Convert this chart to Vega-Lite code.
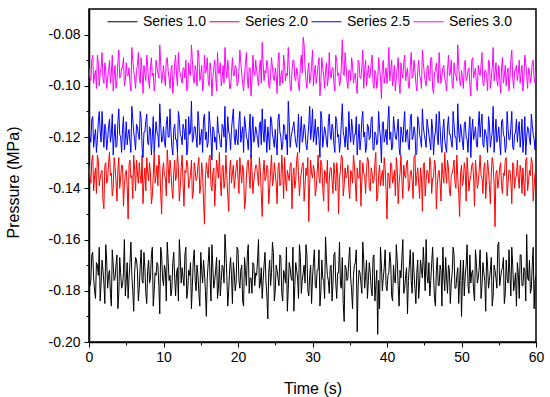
{
"$schema":"https://vega.github.io/schema/vega-lite/v6.json",
"width":447,"height":333,
"autosize":{"type":"none"},
"padding":{"left":89,"top":9,"right":14,"bottom":55},
"background":"white",
"config":{"view":{"stroke":"black","strokeWidth":1.5},"font":"Liberation Sans"},
"data":{"values":[
{"t":0,"a":-0.171,"b":-0.131,"c":-0.116,"d":-0.093},
{"t":0.25,"a":-0.176,"b":-0.138,"c":-0.122,"d":-0.098},
{"t":0.5,"a":-0.165,"b":-0.127,"c":-0.112,"d":-0.088},
{"t":0.75,"a":-0.180,"b":-0.135,"c":-0.120,"d":-0.096},
{"t":1,"a":-0.169,"b":-0.142,"c":-0.126,"d":-0.101},
{"t":1.25,"a":-0.174,"b":-0.129,"c":-0.114,"d":-0.091},
{"t":1.5,"a":-0.184,"b":-0.136,"c":-0.118,"d":-0.095},
{"t":1.75,"a":-0.168,"b":-0.133,"c":-0.110,"d":-0.087},
{"t":2,"a":-0.177,"b":-0.148,"c":-0.124,"d":-0.099},
{"t":2.25,"a":-0.162,"b":-0.130,"c":-0.117,"d":-0.094},
{"t":2.5,"a":-0.179,"b":-0.137,"c":-0.121,"d":-0.097},
{"t":2.75,"a":-0.172,"b":-0.126,"c":-0.113,"d":-0.090},
{"t":3,"a":-0.186,"b":-0.134,"c":-0.119,"d":-0.095},
{"t":3.25,"a":-0.170,"b":-0.140,"c":-0.127,"d":-0.102},
{"t":3.5,"a":-0.175,"b":-0.132,"c":-0.115,"d":-0.092},
{"t":3.75,"a":-0.166,"b":-0.145,"c":-0.123,"d":-0.098},
{"t":4,"a":-0.181,"b":-0.128,"c":-0.109,"d":-0.086},
{"t":4.25,"a":-0.173,"b":-0.136,"c":-0.120,"d":-0.096},
{"t":4.5,"a":-0.178,"b":-0.131,"c":-0.117,"d":-0.093},
{"t":4.75,"a":-0.160,"b":-0.139,"c":-0.125,"d":-0.100},
{"t":5,"a":-0.176,"b":-0.133,"c":-0.114,"d":-0.091},
{"t":5.25,"a":-0.183,"b":-0.152,"c":-0.119,"d":-0.096},
{"t":5.5,"a":-0.169,"b":-0.129,"c":-0.122,"d":-0.099},
{"t":5.75,"a":-0.174,"b":-0.135,"c":-0.108,"d":-0.085},
{"t":6,"a":-0.188,"b":-0.127,"c":-0.118,"d":-0.094},
{"t":6.25,"a":-0.167,"b":-0.141,"c":-0.125,"d":-0.101},
{"t":6.5,"a":-0.172,"b":-0.134,"c":-0.116,"d":-0.092},
{"t":6.75,"a":-0.179,"b":-0.130,"c":-0.121,"d":-0.097},
{"t":7,"a":-0.164,"b":-0.138,"c":-0.113,"d":-0.089},
{"t":7.25,"a":-0.177,"b":-0.146,"c":-0.128,"d":-0.103},
{"t":7.5,"a":-0.171,"b":-0.132,"c":-0.118,"d":-0.095},
{"t":7.75,"a":-0.185,"b":-0.128,"c":-0.111,"d":-0.088},
{"t":8,"a":-0.168,"b":-0.137,"c":-0.123,"d":-0.098},
{"t":8.25,"a":-0.175,"b":-0.134,"c":-0.117,"d":-0.093},
{"t":8.5,"a":-0.163,"b":-0.143,"c":-0.120,"d":-0.096},
{"t":8.75,"a":-0.180,"b":-0.126,"c":-0.126,"d":-0.102},
{"t":9,"a":-0.174,"b":-0.135,"c":-0.114,"d":-0.090},
{"t":9.25,"a":-0.170,"b":-0.139,"c":-0.119,"d":-0.095},
{"t":9.5,"a":-0.189,"b":-0.131,"c":-0.107,"d":-0.084},
{"t":9.75,"a":-0.166,"b":-0.150,"c":-0.122,"d":-0.099},
{"t":10,"a":-0.178,"b":-0.130,"c":-0.116,"d":-0.092},
{"t":10.25,"a":-0.172,"b":-0.136,"c":-0.124,"d":-0.100},
{"t":10.5,"a":-0.161,"b":-0.125,"c":-0.112,"d":-0.089},
{"t":10.75,"a":-0.176,"b":-0.138,"c":-0.120,"d":-0.097},
{"t":11,"a":-0.182,"b":-0.133,"c":-0.118,"d":-0.094},
{"t":11.25,"a":-0.169,"b":-0.144,"c":-0.127,"d":-0.103},
{"t":11.5,"a":-0.175,"b":-0.129,"c":-0.115,"d":-0.091},
{"t":11.75,"a":-0.173,"b":-0.135,"c":-0.121,"d":-0.096},
{"t":12,"a":-0.184,"b":-0.132,"c":-0.110,"d":-0.087},
{"t":12.25,"a":-0.167,"b":-0.140,"c":-0.119,"d":-0.095},
{"t":12.5,"a":-0.171,"b":-0.127,"c":-0.123,"d":-0.099},
{"t":12.75,"a":-0.178,"b":-0.147,"c":-0.117,"d":-0.093},
{"t":13,"a":-0.163,"b":-0.134,"c":-0.113,"d":-0.090},
{"t":13.25,"a":-0.180,"b":-0.131,"c":-0.125,"d":-0.101},
{"t":13.5,"a":-0.174,"b":-0.137,"c":-0.119,"d":-0.095},
{"t":13.75,"a":-0.187,"b":-0.129,"c":-0.106,"d":-0.084},
{"t":14,"a":-0.168,"b":-0.142,"c":-0.121,"d":-0.097},
{"t":14.25,"a":-0.176,"b":-0.133,"c":-0.116,"d":-0.092},
{"t":14.5,"a":-0.170,"b":-0.136,"c":-0.124,"d":-0.100},
{"t":14.75,"a":-0.181,"b":-0.128,"c":-0.114,"d":-0.089},
{"t":15,"a":-0.165,"b":-0.139,"c":-0.120,"d":-0.096},
{"t":15.25,"a":-0.177,"b":-0.134,"c":-0.126,"d":-0.102},
{"t":15.5,"a":-0.173,"b":-0.154,"c":-0.111,"d":-0.088},
{"t":15.75,"a":-0.190,"b":-0.130,"c":-0.118,"d":-0.094},
{"t":16,"a":-0.169,"b":-0.136,"c":-0.122,"d":-0.098},
{"t":16.25,"a":-0.175,"b":-0.127,"c":-0.115,"d":-0.091},
{"t":16.5,"a":-0.162,"b":-0.141,"c":-0.129,"d":-0.104},
{"t":16.75,"a":-0.179,"b":-0.132,"c":-0.117,"d":-0.093},
{"t":17,"a":-0.172,"b":-0.138,"c":-0.120,"d":-0.096},
{"t":17.25,"a":-0.183,"b":-0.133,"c":-0.112,"d":-0.087},
{"t":17.5,"a":-0.168,"b":-0.126,"c":-0.119,"d":-0.095},
{"t":17.75,"a":-0.176,"b":-0.143,"c":-0.124,"d":-0.100},
{"t":18,"a":-0.171,"b":-0.131,"c":-0.116,"d":-0.092},
{"t":18.25,"a":-0.158,"b":-0.137,"c":-0.108,"d":-0.085},
{"t":18.5,"a":-0.174,"b":-0.135,"c":-0.121,"d":-0.097},
{"t":18.75,"a":-0.180,"b":-0.149,"c":-0.118,"d":-0.094},
{"t":19,"a":-0.167,"b":-0.129,"c":-0.125,"d":-0.101},
{"t":19.25,"a":-0.185,"b":-0.134,"c":-0.113,"d":-0.089},
{"t":19.5,"a":-0.173,"b":-0.140,"c":-0.120,"d":-0.096},
{"t":19.75,"a":-0.177,"b":-0.132,"c":-0.117,"d":-0.093},
{"t":20,"a":-0.164,"b":-0.136,"c":-0.123,"d":-0.099},
{"t":20.25,"a":-0.179,"b":-0.128,"c":-0.110,"d":-0.086},
{"t":20.5,"a":-0.170,"b":-0.138,"c":-0.119,"d":-0.095},
{"t":20.75,"a":-0.186,"b":-0.133,"c":-0.126,"d":-0.102},
{"t":21,"a":-0.172,"b":-0.145,"c":-0.115,"d":-0.091},
{"t":21.25,"a":-0.166,"b":-0.130,"c":-0.121,"d":-0.097},
{"t":21.5,"a":-0.181,"b":-0.135,"c":-0.117,"d":-0.093},
{"t":21.75,"a":-0.175,"b":-0.127,"c":-0.128,"d":-0.104},
{"t":22,"a":-0.169,"b":-0.142,"c":-0.112,"d":-0.088},
{"t":22.25,"a":-0.178,"b":-0.134,"c":-0.120,"d":-0.096},
{"t":22.5,"a":-0.174,"b":-0.131,"c":-0.118,"d":-0.094},
{"t":22.75,"a":-0.160,"b":-0.139,"c":-0.124,"d":-0.100},
{"t":23,"a":-0.177,"b":-0.133,"c":-0.114,"d":-0.090},
{"t":23.25,"a":-0.183,"b":-0.151,"c":-0.109,"d":-0.083},
{"t":23.5,"a":-0.170,"b":-0.129,"c":-0.122,"d":-0.098},
{"t":23.75,"a":-0.176,"b":-0.136,"c":-0.119,"d":-0.095},
{"t":24,"a":-0.191,"b":-0.132,"c":-0.116,"d":-0.092},
{"t":24.25,"a":-0.168,"b":-0.140,"c":-0.125,"d":-0.101},
{"t":24.5,"a":-0.173,"b":-0.127,"c":-0.113,"d":-0.089},
{"t":24.75,"a":-0.165,"b":-0.137,"c":-0.121,"d":-0.097},
{"t":25,"a":-0.180,"b":-0.134,"c":-0.117,"d":-0.093},
{"t":25.25,"a":-0.172,"b":-0.146,"c":-0.127,"d":-0.103},
{"t":25.5,"a":-0.178,"b":-0.130,"c":-0.111,"d":-0.087},
{"t":25.75,"a":-0.167,"b":-0.138,"c":-0.120,"d":-0.096},
{"t":26,"a":-0.184,"b":-0.133,"c":-0.123,"d":-0.099},
{"t":26.25,"a":-0.174,"b":-0.128,"c":-0.116,"d":-0.092},
{"t":26.5,"a":-0.163,"b":-0.141,"c":-0.119,"d":-0.095},
{"t":26.75,"a":-0.179,"b":-0.135,"c":-0.106,"d":-0.085},
{"t":27,"a":-0.171,"b":-0.131,"c":-0.124,"d":-0.100},
{"t":27.25,"a":-0.176,"b":-0.148,"c":-0.118,"d":-0.094},
{"t":27.5,"a":-0.188,"b":-0.132,"c":-0.114,"d":-0.090},
{"t":27.75,"a":-0.169,"b":-0.137,"c":-0.122,"d":-0.098},
{"t":28,"a":-0.175,"b":-0.126,"c":-0.119,"d":-0.095},
{"t":28.25,"a":-0.162,"b":-0.143,"c":-0.126,"d":-0.102},
{"t":28.5,"a":-0.181,"b":-0.134,"c":-0.112,"d":-0.088},
{"t":28.75,"a":-0.173,"b":-0.130,"c":-0.120,"d":-0.081},
{"t":29,"a":-0.177,"b":-0.139,"c":-0.117,"d":-0.093},
{"t":29.25,"a":-0.166,"b":-0.135,"c":-0.125,"d":-0.101},
{"t":29.5,"a":-0.182,"b":-0.153,"c":-0.115,"d":-0.091},
{"t":29.75,"a":-0.170,"b":-0.129,"c":-0.121,"d":-0.097},
{"t":30,"a":-0.175,"b":-0.136,"c":-0.109,"d":-0.086},
{"t":30.25,"a":-0.164,"b":-0.133,"c":-0.119,"d":-0.095},
{"t":30.5,"a":-0.179,"b":-0.140,"c":-0.123,"d":-0.099},
{"t":30.75,"a":-0.172,"b":-0.127,"c":-0.116,"d":-0.092},
{"t":31,"a":-0.186,"b":-0.138,"c":-0.128,"d":-0.104},
{"t":31.25,"a":-0.168,"b":-0.131,"c":-0.113,"d":-0.089},
{"t":31.5,"a":-0.176,"b":-0.145,"c":-0.120,"d":-0.096},
{"t":31.75,"a":-0.159,"b":-0.134,"c":-0.118,"d":-0.094},
{"t":32,"a":-0.174,"b":-0.129,"c":-0.124,"d":-0.100},
{"t":32.25,"a":-0.181,"b":-0.137,"c":-0.111,"d":-0.087},
{"t":32.5,"a":-0.170,"b":-0.132,"c":-0.121,"d":-0.097},
{"t":32.75,"a":-0.177,"b":-0.142,"c":-0.117,"d":-0.093},
{"t":33,"a":-0.165,"b":-0.135,"c":-0.126,"d":-0.102},
{"t":33.25,"a":-0.183,"b":-0.130,"c":-0.114,"d":-0.090},
{"t":33.5,"a":-0.173,"b":-0.150,"c":-0.119,"d":-0.095},
{"t":33.75,"a":-0.178,"b":-0.133,"c":-0.122,"d":-0.098},
{"t":34,"a":-0.167,"b":-0.128,"c":-0.107,"d":-0.082},
{"t":34.25,"a":-0.192,"b":-0.139,"c":-0.120,"d":-0.096},
{"t":34.5,"a":-0.171,"b":-0.136,"c":-0.116,"d":-0.092},
{"t":34.75,"a":-0.175,"b":-0.131,"c":-0.125,"d":-0.101},
{"t":35,"a":-0.163,"b":-0.144,"c":-0.118,"d":-0.094},
{"t":35.25,"a":-0.180,"b":-0.134,"c":-0.113,"d":-0.089},
{"t":35.5,"a":-0.174,"b":-0.127,"c":-0.123,"d":-0.099},
{"t":35.75,"a":-0.169,"b":-0.138,"c":-0.119,"d":-0.095},
{"t":36,"a":-0.196,"b":-0.132,"c":-0.127,"d":-0.103},
{"t":36.25,"a":-0.172,"b":-0.136,"c":-0.115,"d":-0.091},
{"t":36.5,"a":-0.177,"b":-0.147,"c":-0.121,"d":-0.097},
{"t":36.75,"a":-0.161,"b":-0.130,"c":-0.110,"d":-0.086},
{"t":37,"a":-0.179,"b":-0.135,"c":-0.118,"d":-0.094},
{"t":37.25,"a":-0.168,"b":-0.133,"c":-0.124,"d":-0.100},
{"t":37.5,"a":-0.176,"b":-0.129,"c":-0.116,"d":-0.092},
{"t":37.75,"a":-0.173,"b":-0.141,"c":-0.120,"d":-0.096},
{"t":38,"a":-0.182,"b":-0.134,"c":-0.112,"d":-0.088},
{"t":38.25,"a":-0.166,"b":-0.137,"c":-0.125,"d":-0.101},
{"t":38.5,"a":-0.178,"b":-0.126,"c":-0.119,"d":-0.095},
{"t":38.75,"a":-0.197,"b":-0.143,"c":-0.122,"d":-0.098},
{"t":39,"a":-0.187,"b":-0.131,"c":-0.117,"d":-0.093},
{"t":39.25,"a":-0.170,"b":-0.136,"c":-0.130,"d":-0.105},
{"t":39.5,"a":-0.175,"b":-0.139,"c":-0.114,"d":-0.090},
{"t":39.75,"a":-0.164,"b":-0.132,"c":-0.120,"d":-0.096},
{"t":40,"a":-0.180,"b":-0.152,"c":-0.123,"d":-0.099},
{"t":40.25,"a":-0.173,"b":-0.135,"c":-0.108,"d":-0.085},
{"t":40.5,"a":-0.169,"b":-0.130,"c":-0.118,"d":-0.094},
{"t":40.75,"a":-0.184,"b":-0.138,"c":-0.124,"d":-0.100},
{"t":41,"a":-0.176,"b":-0.133,"c":-0.116,"d":-0.092},
{"t":41.25,"a":-0.162,"b":-0.128,"c":-0.121,"d":-0.097},
{"t":41.5,"a":-0.178,"b":-0.146,"c":-0.113,"d":-0.089},
{"t":41.75,"a":-0.172,"b":-0.134,"c":-0.127,"d":-0.103},
{"t":42,"a":-0.167,"b":-0.137,"c":-0.119,"d":-0.095},
{"t":42.25,"a":-0.181,"b":-0.131,"c":-0.115,"d":-0.091},
{"t":42.5,"a":-0.174,"b":-0.136,"c":-0.122,"d":-0.098},
{"t":42.75,"a":-0.189,"b":-0.129,"c":-0.117,"d":-0.093},
{"t":43,"a":-0.170,"b":-0.140,"c":-0.125,"d":-0.101},
{"t":43.25,"a":-0.176,"b":-0.133,"c":-0.111,"d":-0.087},
{"t":43.5,"a":-0.165,"b":-0.144,"c":-0.120,"d":-0.096},
{"t":43.75,"a":-0.179,"b":-0.127,"c":-0.118,"d":-0.094},
{"t":44,"a":-0.173,"b":-0.135,"c":-0.126,"d":-0.102},
{"t":44.25,"a":-0.183,"b":-0.138,"c":-0.114,"d":-0.090},
{"t":44.5,"a":-0.168,"b":-0.132,"c":-0.121,"d":-0.097},
{"t":44.75,"a":-0.175,"b":-0.149,"c":-0.109,"d":-0.086},
{"t":45,"a":-0.171,"b":-0.130,"c":-0.119,"d":-0.095},
{"t":45.25,"a":-0.160,"b":-0.137,"c":-0.124,"d":-0.100},
{"t":45.5,"a":-0.177,"b":-0.134,"c":-0.116,"d":-0.092},
{"t":45.75,"a":-0.182,"b":-0.128,"c":-0.122,"d":-0.098},
{"t":46,"a":-0.169,"b":-0.142,"c":-0.113,"d":-0.089},
{"t":46.25,"a":-0.174,"b":-0.136,"c":-0.127,"d":-0.103},
{"t":46.5,"a":-0.186,"b":-0.131,"c":-0.118,"d":-0.094},
{"t":46.75,"a":-0.167,"b":-0.139,"c":-0.120,"d":-0.096},
{"t":47,"a":-0.178,"b":-0.133,"c":-0.110,"d":-0.087},
{"t":47.25,"a":-0.172,"b":-0.145,"c":-0.123,"d":-0.099},
{"t":47.5,"a":-0.163,"b":-0.135,"c":-0.117,"d":-0.093},
{"t":47.75,"a":-0.180,"b":-0.126,"c":-0.121,"d":-0.097},
{"t":48,"a":-0.175,"b":-0.138,"c":-0.126,"d":-0.102},
{"t":48.25,"a":-0.170,"b":-0.132,"c":-0.112,"d":-0.088},
{"t":48.5,"a":-0.185,"b":-0.143,"c":-0.119,"d":-0.095},
{"t":48.75,"a":-0.173,"b":-0.134,"c":-0.124,"d":-0.100},
{"t":49,"a":-0.166,"b":-0.129,"c":-0.115,"d":-0.091},
{"t":49.25,"a":-0.179,"b":-0.140,"c":-0.120,"d":-0.096},
{"t":49.5,"a":-0.171,"b":-0.136,"c":-0.107,"d":-0.084},
{"t":49.75,"a":-0.176,"b":-0.151,"c":-0.122,"d":-0.098},
{"t":50,"a":-0.190,"b":-0.131,"c":-0.118,"d":-0.094},
{"t":50.25,"a":-0.168,"b":-0.137,"c":-0.125,"d":-0.101},
{"t":50.5,"a":-0.174,"b":-0.133,"c":-0.114,"d":-0.090},
{"t":50.75,"a":-0.162,"b":-0.128,"c":-0.121,"d":-0.097},
{"t":51,"a":-0.181,"b":-0.141,"c":-0.117,"d":-0.093},
{"t":51.25,"a":-0.177,"b":-0.135,"c":-0.128,"d":-0.104},
{"t":51.5,"a":-0.172,"b":-0.130,"c":-0.113,"d":-0.089},
{"t":51.75,"a":-0.184,"b":-0.147,"c":-0.119,"d":-0.095},
{"t":52,"a":-0.169,"b":-0.134,"c":-0.123,"d":-0.099},
{"t":52.25,"a":-0.175,"b":-0.138,"c":-0.116,"d":-0.092},
{"t":52.5,"a":-0.164,"b":-0.127,"c":-0.120,"d":-0.096},
{"t":52.75,"a":-0.178,"b":-0.136,"c":-0.111,"d":-0.087},
{"t":53,"a":-0.173,"b":-0.132,"c":-0.124,"d":-0.100},
{"t":53.25,"a":-0.188,"b":-0.144,"c":-0.118,"d":-0.094},
{"t":53.5,"a":-0.170,"b":-0.129,"c":-0.126,"d":-0.102},
{"t":53.75,"a":-0.176,"b":-0.139,"c":-0.115,"d":-0.091},
{"t":54,"a":-0.167,"b":-0.134,"c":-0.121,"d":-0.097},
{"t":54.25,"a":-0.182,"b":-0.131,"c":-0.108,"d":-0.085},
{"t":54.5,"a":-0.172,"b":-0.155,"c":-0.119,"d":-0.095},
{"t":54.75,"a":-0.179,"b":-0.133,"c":-0.122,"d":-0.098},
{"t":55,"a":-0.161,"b":-0.137,"c":-0.116,"d":-0.092},
{"t":55.25,"a":-0.175,"b":-0.130,"c":-0.127,"d":-0.103},
{"t":55.5,"a":-0.171,"b":-0.142,"c":-0.113,"d":-0.089},
{"t":55.75,"a":-0.185,"b":-0.135,"c":-0.120,"d":-0.096},
{"t":56,"a":-0.168,"b":-0.128,"c":-0.124,"d":-0.100},
{"t":56.25,"a":-0.177,"b":-0.138,"c":-0.117,"d":-0.093},
{"t":56.5,"a":-0.174,"b":-0.133,"c":-0.121,"d":-0.097},
{"t":56.75,"a":-0.163,"b":-0.146,"c":-0.110,"d":-0.086},
{"t":57,"a":-0.180,"b":-0.131,"c":-0.125,"d":-0.101},
{"t":57.25,"a":-0.173,"b":-0.136,"c":-0.118,"d":-0.094},
{"t":57.5,"a":-0.169,"b":-0.129,"c":-0.122,"d":-0.098},
{"t":57.75,"a":-0.183,"b":-0.140,"c":-0.114,"d":-0.090},
{"t":58,"a":-0.166,"b":-0.134,"c":-0.119,"d":-0.095},
{"t":58.25,"a":-0.178,"b":-0.132,"c":-0.126,"d":-0.102},
{"t":58.5,"a":-0.172,"b":-0.143,"c":-0.112,"d":-0.088},
{"t":58.75,"a":-0.158,"b":-0.128,"c":-0.120,"d":-0.096},
{"t":59,"a":-0.176,"b":-0.137,"c":-0.117,"d":-0.093},
{"t":59.25,"a":-0.181,"b":-0.135,"c":-0.123,"d":-0.099},
{"t":59.5,"a":-0.170,"b":-0.130,"c":-0.115,"d":-0.091},
{"t":59.75,"a":-0.187,"b":-0.139,"c":-0.121,"d":-0.097},
{"t":60,"a":-0.174,"b":-0.133,"c":-0.118,"d":-0.094},
{"t":0.125,"a":-0.178,"b":-0.136,"c":-0.120,"d":-0.097},
{"t":0.375,"a":-0.166,"b":-0.129,"c":-0.113,"d":-0.090},
{"t":0.625,"a":-0.175,"b":-0.141,"c":-0.124,"d":-0.099},
{"t":0.875,"a":-0.183,"b":-0.132,"c":-0.117,"d":-0.094},
{"t":1.125,"a":-0.170,"b":-0.127,"c":-0.121,"d":-0.088},
{"t":1.375,"a":-0.163,"b":-0.139,"c":-0.110,"d":-0.100},
{"t":1.625,"a":-0.177,"b":-0.134,"c":-0.122,"d":-0.093},
{"t":1.875,"a":-0.172,"b":-0.145,"c":-0.118,"d":-0.097},
{"t":2.125,"a":-0.185,"b":-0.131,"c":-0.115,"d":-0.091},
{"t":2.375,"a":-0.168,"b":-0.138,"c":-0.125,"d":-0.101},
{"t":2.625,"a":-0.174,"b":-0.130,"c":-0.116,"d":-0.094},
{"t":2.875,"a":-0.181,"b":-0.135,"c":-0.122,"d":-0.099},
{"t":3.125,"a":-0.164,"b":-0.143,"c":-0.111,"d":-0.088},
{"t":3.375,"a":-0.176,"b":-0.128,"c":-0.120,"d":-0.096},
{"t":3.625,"a":-0.170,"b":-0.137,"c":-0.124,"d":-0.101},
{"t":3.875,"a":-0.187,"b":-0.133,"c":-0.114,"d":-0.091},
{"t":4.125,"a":-0.167,"b":-0.140,"c":-0.119,"d":-0.097},
{"t":4.375,"a":-0.179,"b":-0.131,"c":-0.126,"d":-0.093},
{"t":4.625,"a":-0.173,"b":-0.147,"c":-0.112,"d":-0.089},
{"t":4.875,"a":-0.182,"b":-0.134,"c":-0.121,"d":-0.098},
{"t":5.125,"a":-0.169,"b":-0.139,"c":-0.123,"d":-0.096},
{"t":5.375,"a":-0.175,"b":-0.131,"c":-0.117,"d":-0.093},
{"t":5.625,"a":-0.161,"b":-0.136,"c":-0.126,"d":-0.102},
{"t":5.875,"a":-0.180,"b":-0.144,"c":-0.113,"d":-0.090},
{"t":6.125,"a":-0.173,"b":-0.133,"c":-0.121,"d":-0.097},
{"t":6.375,"a":-0.168,"b":-0.129,"c":-0.115,"d":-0.094},
{"t":6.625,"a":-0.184,"b":-0.138,"c":-0.119,"d":-0.087},
{"t":6.875,"a":-0.170,"b":-0.135,"c":-0.110,"d":-0.099},
{"t":7.125,"a":-0.176,"b":-0.127,"c":-0.124,"d":-0.095},
{"t":7.375,"a":-0.165,"b":-0.137,"c":-0.118,"d":-0.092},
{"t":7.625,"a":-0.181,"b":-0.141,"c":-0.114,"d":-0.098},
{"t":7.875,"a":-0.172,"b":-0.134,"c":-0.122,"d":-0.092},
{"t":8.125,"a":-0.177,"b":-0.130,"c":-0.116,"d":-0.101},
{"t":8.375,"a":-0.166,"b":-0.146,"c":-0.127,"d":-0.089},
{"t":8.625,"a":-0.186,"b":-0.135,"c":-0.112,"d":-0.095},
{"t":8.875,"a":-0.173,"b":-0.138,"c":-0.120,"d":-0.099},
{"t":9.125,"a":-0.169,"b":-0.131,"c":-0.118,"d":-0.093},
{"t":9.375,"a":-0.178,"b":-0.127,"c":-0.124,"d":-0.097},
{"t":9.625,"a":-0.163,"b":-0.142,"c":-0.115,"d":-0.091},
{"t":9.875,"a":-0.175,"b":-0.133,"c":-0.121,"d":-0.096},
{"t":10.125,"a":-0.170,"b":-0.135,"c":-0.122,"d":-0.097},
{"t":10.375,"a":-0.184,"b":-0.143,"c":-0.115,"d":-0.090},
{"t":10.625,"a":-0.168,"b":-0.131,"c":-0.120,"d":-0.094},
{"t":10.875,"a":-0.174,"b":-0.129,"c":-0.109,"d":-0.101},
{"t":11.125,"a":-0.179,"b":-0.140,"c":-0.124,"d":-0.092},
{"t":11.375,"a":-0.165,"b":-0.134,"c":-0.117,"d":-0.098},
{"t":11.625,"a":-0.182,"b":-0.137,"c":-0.121,"d":-0.088},
{"t":11.875,"a":-0.171,"b":-0.126,"c":-0.126,"d":-0.100},
{"t":12.125,"a":-0.160,"b":-0.145,"c":-0.113,"d":-0.094},
{"t":12.375,"a":-0.177,"b":-0.132,"c":-0.120,"d":-0.097},
{"t":12.625,"a":-0.175,"b":-0.138,"c":-0.115,"d":-0.093},
{"t":12.875,"a":-0.166,"b":-0.133,"c":-0.121,"d":-0.097},
{"t":13.125,"a":-0.183,"b":-0.129,"c":-0.127,"d":-0.102},
{"t":13.375,"a":-0.172,"b":-0.140,"c":-0.112,"d":-0.091},
{"t":13.625,"a":-0.169,"b":-0.135,"c":-0.118,"d":-0.096},
{"t":13.875,"a":-0.178,"b":-0.144,"c":-0.122,"d":-0.090},
{"t":14.125,"a":-0.164,"b":-0.130,"c":-0.116,"d":-0.099},
{"t":14.375,"a":-0.180,"b":-0.137,"c":-0.120,"d":-0.094},
{"t":14.625,"a":-0.174,"b":-0.131,"c":-0.110,"d":-0.086},
{"t":14.875,"a":-0.186,"b":-0.142,"c":-0.123,"d":-0.098},
{"t":15.125,"a":-0.172,"b":-0.130,"c":-0.117,"d":-0.092},
{"t":15.375,"a":-0.168,"b":-0.145,"c":-0.113,"d":-0.099},
{"t":15.625,"a":-0.180,"b":-0.136,"c":-0.121,"d":-0.095},
{"t":15.875,"a":-0.175,"b":-0.133,"c":-0.124,"d":-0.089},
{"t":16.125,"a":-0.163,"b":-0.128,"c":-0.110,"d":-0.100},
{"t":16.375,"a":-0.184,"b":-0.139,"c":-0.120,"d":-0.094},
{"t":16.625,"a":-0.171,"b":-0.134,"c":-0.116,"d":-0.097},
{"t":16.875,"a":-0.176,"b":-0.147,"c":-0.122,"d":-0.090},
{"t":17.125,"a":-0.167,"b":-0.129,"c":-0.125,"d":-0.102},
{"t":17.375,"a":-0.179,"b":-0.136,"c":-0.118,"d":-0.095},
{"t":17.625,"a":-0.182,"b":-0.137,"c":-0.123,"d":-0.091},
{"t":17.875,"a":-0.170,"b":-0.132,"c":-0.115,"d":-0.097},
{"t":18.125,"a":-0.177,"b":-0.140,"c":-0.120,"d":-0.099},
{"t":18.375,"a":-0.165,"b":-0.127,"c":-0.126,"d":-0.093},
{"t":18.625,"a":-0.186,"b":-0.143,"c":-0.112,"d":-0.090},
{"t":18.875,"a":-0.172,"b":-0.133,"c":-0.119,"d":-0.101},
{"t":19.125,"a":-0.174,"b":-0.138,"c":-0.117,"d":-0.095},
{"t":19.375,"a":-0.169,"b":-0.131,"c":-0.109,"d":-0.096},
{"t":19.625,"a":-0.180,"b":-0.136,"c":-0.123,"d":-0.092},
{"t":19.875,"a":-0.163,"b":-0.129,"c":-0.121,"d":-0.100},
{"t":20.125,"a":-0.176,"b":-0.142,"c":-0.114,"d":-0.094},
{"t":20.375,"a":-0.172,"b":-0.134,"c":-0.122,"d":-0.091},
{"t":20.625,"a":-0.184,"b":-0.131,"c":-0.116,"d":-0.099},
{"t":20.875,"a":-0.167,"b":-0.148,"c":-0.112,"d":-0.096},
{"t":21.125,"a":-0.178,"b":-0.136,"c":-0.120,"d":-0.087},
{"t":21.375,"a":-0.162,"b":-0.129,"c":-0.125,"d":-0.101},
{"t":21.625,"a":-0.175,"b":-0.140,"c":-0.111,"d":-0.093},
{"t":21.875,"a":-0.181,"b":-0.133,"c":-0.118,"d":-0.098},
{"t":22.125,"a":-0.170,"b":-0.137,"c":-0.122,"d":-0.095},
{"t":22.375,"a":-0.173,"b":-0.131,"c":-0.116,"d":-0.090},
{"t":22.625,"a":-0.168,"b":-0.135,"c":-0.121,"d":-0.097},
{"t":22.875,"a":-0.179,"b":-0.128,"c":-0.115,"d":-0.093},
{"t":23.125,"a":-0.171,"b":-0.142,"c":-0.123,"d":-0.099},
{"t":23.375,"a":-0.176,"b":-0.134,"c":-0.118,"d":-0.092},
{"t":23.625,"a":-0.165,"b":-0.137,"c":-0.113,"d":-0.094},
{"t":23.875,"a":-0.182,"b":-0.131,"c":-0.126,"d":-0.090},
{"t":24.125,"a":-0.173,"b":-0.146,"c":-0.120,"d":-0.100},
{"t":24.375,"a":-0.178,"b":-0.133,"c":-0.112,"d":-0.096},
{"t":24.625,"a":-0.161,"b":-0.139,"c":-0.119,"d":-0.093},
{"t":24.875,"a":-0.184,"b":-0.130,"c":-0.124,"d":-0.098},
{"t":25.125,"a":-0.170,"b":-0.138,"c":-0.122,"d":-0.096},
{"t":25.375,"a":-0.175,"b":-0.132,"c":-0.113,"d":-0.091},
{"t":25.625,"a":-0.166,"b":-0.139,"c":-0.118,"d":-0.100},
{"t":25.875,"a":-0.181,"b":-0.127,"c":-0.125,"d":-0.094},
{"t":26.125,"a":-0.172,"b":-0.144,"c":-0.115,"d":-0.088},
{"t":26.375,"a":-0.177,"b":-0.136,"c":-0.121,"d":-0.098},
{"t":26.625,"a":-0.188,"b":-0.133,"c":-0.127,"d":-0.096},
{"t":26.875,"a":-0.169,"b":-0.137,"c":-0.114,"d":-0.093},
{"t":27.125,"a":-0.175,"b":-0.130,"c":-0.120,"d":-0.102},
{"t":27.375,"a":-0.163,"b":-0.135,"c":-0.116,"d":-0.090},
{"t":27.625,"a":-0.178,"b":-0.140,"c":-0.119,"d":-0.097},
{"t":27.875,"a":-0.172,"b":-0.129,"c":-0.124,"d":-0.093},
{"t":28.125,"a":-0.183,"b":-0.135,"c":-0.111,"d":-0.100},
{"t":28.375,"a":-0.167,"b":-0.137,"c":-0.118,"d":-0.091},
{"t":28.625,"a":-0.176,"b":-0.131,"c":-0.122,"d":-0.095},
{"t":28.875,"a":-0.170,"b":-0.145,"c":-0.115,"d":-0.084},
{"t":29.125,"a":-0.162,"b":-0.132,"c":-0.123,"d":-0.098},
{"t":29.375,"a":-0.180,"b":-0.128,"c":-0.120,"d":-0.094},
{"t":29.625,"a":-0.174,"b":-0.138,"c":-0.108,"d":-0.099},
{"t":29.875,"a":-0.185,"b":-0.134,"c":-0.117,"d":-0.092},
{"t":30.125,"a":-0.169,"b":-0.131,"c":-0.122,"d":-0.100},
{"t":30.375,"a":-0.178,"b":-0.143,"c":-0.113,"d":-0.092},
{"t":30.625,"a":-0.172,"b":-0.134,"c":-0.117,"d":-0.096},
{"t":30.875,"a":-0.164,"b":-0.136,"c":-0.121,"d":-0.089},
{"t":31.125,"a":-0.180,"b":-0.129,"c":-0.110,"d":-0.098},
{"t":31.375,"a":-0.175,"b":-0.140,"c":-0.124,"d":-0.093},
{"t":31.625,"a":-0.183,"b":-0.133,"c":-0.116,"d":-0.101},
{"t":31.875,"a":-0.168,"b":-0.138,"c":-0.122,"d":-0.091},
{"t":32.125,"a":-0.176,"b":-0.149,"c":-0.114,"d":-0.097},
{"t":32.375,"a":-0.171,"b":-0.132,"c":-0.119,"d":-0.095},
{"t":32.625,"a":-0.184,"b":-0.137,"c":-0.115,"d":-0.093},
{"t":32.875,"a":-0.166,"b":-0.130,"c":-0.123,"d":-0.099},
{"t":33.125,"a":-0.177,"b":-0.141,"c":-0.112,"d":-0.088},
{"t":33.375,"a":-0.173,"b":-0.134,"c":-0.120,"d":-0.096},
{"t":33.625,"a":-0.161,"b":-0.136,"c":-0.126,"d":-0.100},
{"t":33.875,"a":-0.179,"b":-0.127,"c":-0.114,"d":-0.092},
{"t":34.125,"a":-0.185,"b":-0.143,"c":-0.118,"d":-0.095},
{"t":34.375,"a":-0.170,"b":-0.132,"c":-0.124,"d":-0.087},
{"t":34.625,"a":-0.176,"b":-0.135,"c":-0.121,"d":-0.098},
{"t":34.875,"a":-0.168,"b":-0.140,"c":-0.110,"d":-0.094},
{"t":35.125,"a":-0.175,"b":-0.133,"c":-0.122,"d":-0.098},
{"t":35.375,"a":-0.187,"b":-0.138,"c":-0.117,"d":-0.092},
{"t":35.625,"a":-0.170,"b":-0.131,"c":-0.119,"d":-0.096},
{"t":35.875,"a":-0.164,"b":-0.145,"c":-0.112,"d":-0.100},
{"t":36.125,"a":-0.178,"b":-0.136,"c":-0.121,"d":-0.090},
{"t":36.375,"a":-0.173,"b":-0.129,"c":-0.125,"d":-0.097},
{"t":36.625,"a":-0.181,"b":-0.137,"c":-0.113,"d":-0.093},
{"t":36.875,"a":-0.168,"b":-0.134,"c":-0.120,"d":-0.101},
{"t":37.125,"a":-0.174,"b":-0.142,"c":-0.126,"d":-0.090},
{"t":37.375,"a":-0.183,"b":-0.128,"c":-0.115,"d":-0.096},
{"t":37.625,"a":-0.169,"b":-0.140,"c":-0.121,"d":-0.097},
{"t":37.875,"a":-0.179,"b":-0.132,"c":-0.113,"d":-0.091},
{"t":38.125,"a":-0.167,"b":-0.138,"c":-0.125,"d":-0.099},
{"t":38.375,"a":-0.184,"b":-0.130,"c":-0.118,"d":-0.094},
{"t":38.625,"a":-0.172,"b":-0.145,"c":-0.123,"d":-0.101},
{"t":38.875,"a":-0.176,"b":-0.135,"c":-0.110,"d":-0.089},
{"t":39.125,"a":-0.163,"b":-0.139,"c":-0.120,"d":-0.097},
{"t":39.375,"a":-0.180,"b":-0.133,"c":-0.115,"d":-0.092},
{"t":39.625,"a":-0.171,"b":-0.128,"c":-0.122,"d":-0.099},
{"t":39.875,"a":-0.178,"b":-0.141,"c":-0.117,"d":-0.093},
{"t":40.125,"a":-0.174,"b":-0.134,"c":-0.114,"d":-0.094},
{"t":40.375,"a":-0.165,"b":-0.140,"c":-0.121,"d":-0.098},
{"t":40.625,"a":-0.182,"b":-0.131,"c":-0.125,"d":-0.090},
{"t":40.875,"a":-0.170,"b":-0.136,"c":-0.112,"d":-0.096},
{"t":41.125,"a":-0.177,"b":-0.143,"c":-0.120,"d":-0.102},
{"t":41.375,"a":-0.168,"b":-0.132,"c":-0.117,"d":-0.093},
{"t":41.625,"a":-0.186,"b":-0.138,"c":-0.124,"d":-0.099},
{"t":41.875,"a":-0.175,"b":-0.127,"c":-0.116,"d":-0.091},
{"t":42.125,"a":-0.160,"b":-0.144,"c":-0.122,"d":-0.097},
{"t":42.375,"a":-0.179,"b":-0.135,"c":-0.110,"d":-0.088},
{"t":42.625,"a":-0.171,"b":-0.130,"c":-0.118,"d":-0.095},
{"t":42.875,"a":-0.176,"b":-0.141,"c":-0.124,"d":-0.100},
{"t":43.125,"a":-0.164,"b":-0.134,"c":-0.113,"d":-0.092},
{"t":43.375,"a":-0.181,"b":-0.137,"c":-0.121,"d":-0.097},
{"t":43.625,"a":-0.173,"b":-0.128,"c":-0.116,"d":-0.090},
{"t":43.875,"a":-0.185,"b":-0.139,"c":-0.127,"d":-0.099},
{"t":44.125,"a":-0.168,"b":-0.132,"c":-0.112,"d":-0.094},
{"t":44.375,"a":-0.177,"b":-0.144,"c":-0.119,"d":-0.096},
{"t":44.625,"a":-0.172,"b":-0.136,"c":-0.124,"d":-0.101},
{"t":44.875,"a":-0.163,"b":-0.131,"c":-0.116,"d":-0.091},
{"t":45.125,"a":-0.180,"b":-0.143,"c":-0.121,"d":-0.098},
{"t":45.375,"a":-0.174,"b":-0.133,"c":-0.113,"d":-0.093},
{"t":45.625,"a":-0.169,"b":-0.138,"c":-0.119,"d":-0.097},
{"t":45.875,"a":-0.176,"b":-0.131,"c":-0.125,"d":-0.089},
{"t":46.125,"a":-0.163,"b":-0.136,"c":-0.117,"d":-0.101},
{"t":46.375,"a":-0.183,"b":-0.129,"c":-0.120,"d":-0.095},
{"t":46.625,"a":-0.172,"b":-0.148,"c":-0.111,"d":-0.091},
{"t":46.875,"a":-0.178,"b":-0.134,"c":-0.123,"d":-0.099},
{"t":47.125,"a":-0.170,"b":-0.138,"c":-0.116,"d":-0.094},
{"t":47.375,"a":-0.186,"b":-0.130,"c":-0.126,"d":-0.096},
{"t":47.625,"a":-0.174,"b":-0.138,"c":-0.113,"d":-0.092},
{"t":47.875,"a":-0.167,"b":-0.134,"c":-0.124,"d":-0.099},
{"t":48.125,"a":-0.181,"b":-0.129,"c":-0.116,"d":-0.094},
{"t":48.375,"a":-0.172,"b":-0.141,"c":-0.119,"d":-0.096},
{"t":48.625,"a":-0.177,"b":-0.135,"c":-0.122,"d":-0.090},
{"t":48.875,"a":-0.163,"b":-0.132,"c":-0.110,"d":-0.101},
{"t":49.125,"a":-0.179,"b":-0.138,"c":-0.120,"d":-0.095},
{"t":49.375,"a":-0.174,"b":-0.127,"c":-0.125,"d":-0.098},
{"t":49.625,"a":-0.185,"b":-0.142,"c":-0.118,"d":-0.092},
{"t":49.875,"a":-0.168,"b":-0.134,"c":-0.115,"d":-0.100},
{"t":50.125,"a":-0.176,"b":-0.139,"c":-0.122,"d":-0.097},
{"t":50.375,"a":-0.182,"b":-0.130,"c":-0.115,"d":-0.092},
{"t":50.625,"a":-0.170,"b":-0.145,"c":-0.120,"d":-0.098},
{"t":50.875,"a":-0.178,"b":-0.134,"c":-0.126,"d":-0.094},
{"t":51.125,"a":-0.166,"b":-0.137,"c":-0.112,"d":-0.100},
{"t":51.375,"a":-0.173,"b":-0.131,"c":-0.118,"d":-0.090},
{"t":51.625,"a":-0.180,"b":-0.136,"c":-0.121,"d":-0.097},
{"t":51.875,"a":-0.164,"b":-0.129,"c":-0.116,"d":-0.093},
{"t":52.125,"a":-0.177,"b":-0.140,"c":-0.124,"d":-0.102},
{"t":52.375,"a":-0.171,"b":-0.133,"c":-0.110,"d":-0.095},
{"t":52.625,"a":-0.183,"b":-0.135,"c":-0.115,"d":-0.092},
{"t":52.875,"a":-0.169,"b":-0.142,"c":-0.123,"d":-0.099},
{"t":53.125,"a":-0.176,"b":-0.130,"c":-0.117,"d":-0.094},
{"t":53.375,"a":-0.165,"b":-0.137,"c":-0.121,"d":-0.096},
{"t":53.625,"a":-0.179,"b":-0.133,"c":-0.112,"d":-0.090},
{"t":53.875,"a":-0.172,"b":-0.146,"c":-0.124,"d":-0.101},
{"t":54.125,"a":-0.186,"b":-0.128,"c":-0.118,"d":-0.093},
{"t":54.375,"a":-0.170,"b":-0.138,"c":-0.126,"d":-0.098},
{"t":54.625,"a":-0.175,"b":-0.134,"c":-0.113,"d":-0.091},
{"t":54.875,"a":-0.162,"b":-0.140,"c":-0.120,"d":-0.100},
{"t":55.125,"a":-0.178,"b":-0.132,"c":-0.122,"d":-0.097},
{"t":55.375,"a":-0.172,"b":-0.139,"c":-0.114,"d":-0.093},
{"t":55.625,"a":-0.167,"b":-0.134,"c":-0.119,"d":-0.099},
{"t":55.875,"a":-0.181,"b":-0.129,"c":-0.126,"d":-0.092},
{"t":56.125,"a":-0.175,"b":-0.143,"c":-0.110,"d":-0.095},
{"t":56.375,"a":-0.164,"b":-0.133,"c":-0.121,"d":-0.102},
{"t":56.625,"a":-0.182,"b":-0.137,"c":-0.116,"d":-0.090},
{"t":56.875,"a":-0.170,"b":-0.130,"c":-0.124,"d":-0.097},
{"t":57.125,"a":-0.177,"b":-0.140,"c":-0.119,"d":-0.094},
{"t":57.375,"a":-0.186,"b":-0.135,"c":-0.113,"d":-0.092},
{"t":57.625,"a":-0.173,"b":-0.136,"c":-0.117,"d":-0.095},
{"t":57.875,"a":-0.166,"b":-0.131,"c":-0.124,"d":-0.099},
{"t":58.125,"a":-0.178,"b":-0.142,"c":-0.113,"d":-0.092},
{"t":58.375,"a":-0.171,"b":-0.138,"c":-0.120,"d":-0.097},
{"t":58.625,"a":-0.184,"b":-0.129,"c":-0.127,"d":-0.091},
{"t":58.875,"a":-0.175,"b":-0.141,"c":-0.116,"d":-0.101},
{"t":59.125,"a":-0.168,"b":-0.133,"c":-0.121,"d":-0.094},
{"t":59.375,"a":-0.179,"b":-0.128,"c":-0.111,"d":-0.096},
{"t":59.625,"a":-0.163,"b":-0.145,"c":-0.119,"d":-0.090},
{"t":59.875,"a":-0.176,"b":-0.134,"c":-0.125,"d":-0.099}
]},
"transform":[{"fold":["a","b","c","d"],"as":["series","p"]}],
"mark":{"type":"line","strokeWidth":1,"clip":true},
"encoding":{
"x":{"field":"t","type":"quantitative","scale":{"domain":[0,60],"nice":false},
"axis":{"title":"Time (s)","values":[0,5,10,15,20,25,30,35,40,45,50,55,60],"labelExpr":"datum.value % 10 == 0 ? datum.label : ''","grid":false,"domainColor":"black","domainWidth":1.5,"tickColor":"black","tickWidth":1,"tickSize":{"condition":{"test":"datum.value % 10 == 0","value":5},"value":3},"labelFont":"Liberation Sans","labelFontSize":14,"labelColor":"black","labelPadding":3,"labelFlush":false,"titleFont":"Liberation Sans","titleFontSize":16,"titleFontWeight":"normal","titleColor":"black","titleY":51,"titleBaseline":"alphabetic"}},
"y":{"field":"p","type":"quantitative","scale":{"domain":[-0.2,-0.07],"nice":false,"zero":false},
"axis":{"title":"Pressure (MPa)","values":[-0.2,-0.19,-0.18,-0.17,-0.16,-0.15,-0.14,-0.13,-0.12,-0.11,-0.1,-0.09,-0.08],"labelExpr":"abs(round(datum.value*100)) % 2 == 0 ? replace(format(datum.value,'.2f'),'\u2212','-') : ''","grid":false,"domainColor":"black","domainWidth":1.5,"tickColor":"black","tickWidth":1,"tickSize":{"condition":{"test":"abs(round(datum.value*100)) % 2 == 0","value":5},"value":3},"labelFont":"Liberation Sans","labelFontSize":14,"labelColor":"black","labelPadding":4,"labelFlush":false,"titleFont":"Liberation Sans","titleFontSize":16,"titleFontWeight":"normal","titleColor":"black","titleX":-76,"titleY":173,"titleAngle":-90,"titleAlign":"center","titleBaseline":"middle"}},
"color":{"field":"series","type":"nominal","scale":{"domain":["a","b","c","d"],"range":["#000000","#ff0000","#0000ff","#ff00ff"]},
"legend":{"orient":"none","legendX":18,"legendY":-3,"direction":"horizontal","title":null,"symbolType":"stroke","symbolSize":900,"symbolStrokeWidth":1,"labelFont":"Liberation Sans","labelFontSize":14,"labelColor":"black","labelOffset":5,"columnPadding":0,"padding":0,"labelExpr":"datum.label=='a'?'Series 1.0':datum.label=='b'?'Series 2.0':datum.label=='c'?'Series 2.5':'Series 3.0'"}}
}
}
